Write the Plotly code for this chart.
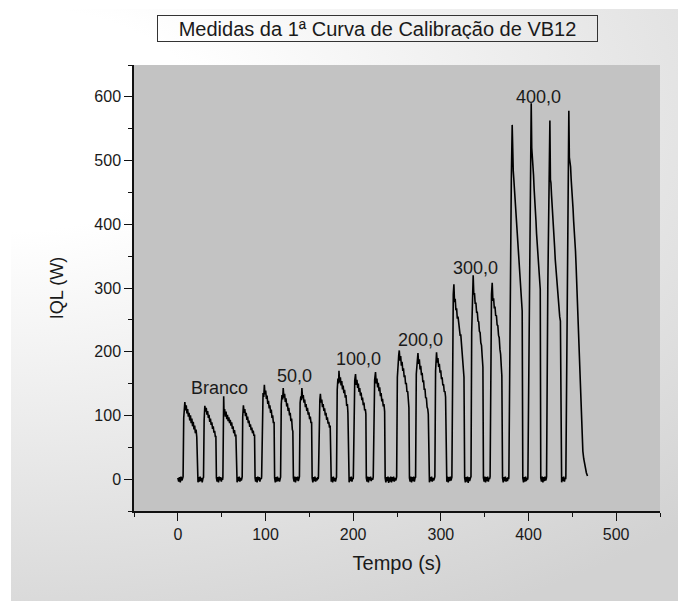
import base64
import plotly.graph_objects as go

# Chemiluminescence signal (IQL) versus time for each VB12 standard.
# Each group holds the pulses recorded for one concentration.
branco_tempo = [0.0, 1.0, 1.8, 2.8, 3.6, 4.6, 5.4,
                6.0, 6.7, 7.4, 8.0, 8.8, 9.6, 10.4, 11.2, 12.0, 12.8, 13.6, 14.4, 15.2, 16.0, 16.8, 17.6, 18.4, 19.2, 20.0, 20.8, 21.6, 22.3,
                23.0, 23.8, 24.6, 25.4, 26.2, 27.0, 27.8, 28.6,
                29.3, 30.0, 30.8, 31.6, 32.4, 33.2, 34.0, 34.8, 35.6, 36.4, 37.2, 38.0, 38.8, 39.6, 40.4, 41.2, 42.0, 42.8, 43.4, 44.0,
                44.8, 45.6, 46.4, 47.2, 48.0, 48.8, 49.6, 50.4, 51.0,
                51.4, 52.0, 52.3, 52.7, 53.4, 54.2, 55.0, 55.8, 56.6, 57.4, 58.2, 59.0, 59.8, 60.6, 61.4, 62.2, 63.0, 63.8, 64.6, 65.4, 66.2, 66.8,
                67.6, 68.4, 69.2, 70.0, 70.8, 71.6, 72.4, 73.0,
                73.4, 74.0, 74.8, 75.6, 76.4, 77.2, 78.0, 78.8, 79.6, 80.4, 81.2, 82.0, 82.8, 83.6, 84.4, 85.2, 86.0, 86.8, 87.5, 88.1,
                88.8, 89.6, 90.4, 91.2, 92.0, 92.8, 93.6, 94.4, 95.2]
branco_iql = [2, -4, 3, -5, 4, -2, 1,
              4, 96, 112, 121, 108, 116, 103, 110, 98, 104, 92, 100, 88, 95, 83, 90, 78, 84, 72, 78, 66, 3,
              -5, 3, -4, 4, -3, 2, -5, 1,
              3, 92, 115, 106, 112, 101, 107, 96, 101, 90, 95, 85, 89, 79, 83, 73, 76, 66, 68, 2,
              -4, 3, -5, 4, -2, 3, -4, 2, -1,
              3, 100, 130, 104, 110, 98, 106, 94, 101, 91, 97, 88, 93, 84, 89, 79, 83, 72, 77, 67, 70, 2,
              -5, 3, -3, 4, -4, 2, -2, 1,
              4, 98, 116, 104, 110, 99, 104, 93, 98, 88, 92, 82, 86, 77, 81, 72, 76, 68, 70, 2,
              -4, 3, -5, 4, -2, 3, -4, 2, 0]

c50_tempo = [95.6, 96.4, 97.2, 98.0, 98.7, 99.4, 100.2, 101.0, 101.8, 102.6, 103.4, 104.2, 105.0, 105.8, 106.6, 107.4, 108.2, 109.0, 109.8, 110.4,
             111.2, 112.0, 112.8, 113.6, 114.4, 115.2, 116.0, 116.8,
             117.2, 118.0, 118.8, 119.6, 120.2, 121.0, 121.8, 122.6, 123.4, 124.2, 125.0, 125.8, 126.6, 127.4, 128.2, 129.0, 129.8, 130.6, 131.2, 131.8,
             132.6, 133.4, 134.2, 135.0, 135.8, 136.6, 137.4, 138.2,
             138.7, 139.5, 140.3, 141.0, 141.5, 142.3, 143.1, 143.9, 144.7, 145.5, 146.3, 147.1, 147.9, 148.7, 149.5, 150.3, 151.1, 151.9, 152.6, 153.2,
             154.0, 154.8, 155.6, 156.4, 157.2, 158.0, 158.8, 159.6, 160.1,
             160.4, 161.2, 162.0, 162.6, 163.4, 164.2, 165.0, 165.8, 166.6, 167.4, 168.2, 169.0, 169.8, 170.6, 171.4, 172.2, 173.0, 173.8, 174.3,
             175.0, 175.8, 176.6, 177.4, 178.2, 179.0, 179.8, 180.6]
c50_iql = [4, 120, 135, 129, 148, 133, 139, 126, 131, 118, 123, 111, 116, 104, 109, 96, 100, 88, 90, 2,
           -5, 3, -4, 4, -3, 2, -4, 1,
           3, 118, 132, 125, 143, 128, 134, 121, 127, 114, 119, 107, 112, 100, 104, 91, 95, 78, 75, 2,
           -4, 4, -5, 3, -2, 4, -3, 1,
           4, 120, 130, 124, 143, 127, 132, 120, 125, 113, 118, 107, 112, 101, 105, 94, 98, 88, 90, 2,
           -5, 3, -3, 4, -4, 2, -2, 3, 0,
           4, 112, 124, 134, 120, 125, 113, 118, 107, 111, 100, 104, 93, 97, 87, 90, 81, 84, 2,
           -4, 3, -5, 4, -3, 2, -4, 1]

c100_tempo = [181.0, 181.8, 182.6, 183.4, 183.8, 184.6, 185.4, 186.2, 187.0, 187.8, 188.6, 189.4, 190.2, 191.0, 191.8, 192.6, 193.4, 194.0, 194.6,
              195.4, 196.2, 197.0, 197.8, 198.6, 199.4, 200.0,
              200.2, 201.0, 201.8, 202.7, 203.5, 204.3, 205.1, 205.9, 206.7, 207.5, 208.3, 209.1, 209.9, 210.7, 211.5, 212.3, 213.1, 213.9, 214.5, 215.0,
              215.8, 216.6, 217.4, 218.2, 219.0, 219.8, 220.6, 221.4, 222.2,
              222.9, 223.7, 224.5, 225.5, 226.3, 227.1, 227.9, 228.7, 229.5, 230.3, 231.1, 231.9, 232.7, 233.5, 234.3, 235.1, 235.9, 236.5,
              237.3, 238.1, 238.9, 239.7, 240.5, 241.3, 242.1, 242.9, 243.7, 244.5, 245.3, 246.1, 246.9, 247.7, 248.5, 249.2]
c100_iql = [3, 140, 158, 150, 170, 152, 160, 147, 154, 141, 147, 135, 140, 128, 132, 115, 118, 104, 2,
            -5, 3, -3, 4, -4, 2, 0,
            4, 140, 155, 165, 148, 156, 143, 150, 137, 143, 131, 136, 124, 128, 116, 120, 108, 110, 102, 2,
            -4, 4, -5, 3, -2, 4, -3, 2, -1,
            3, 140, 156, 168, 150, 158, 144, 151, 138, 144, 130, 135, 122, 126, 114, 118, 106, 2,
            -5, 3, -3, 4, -6, 3, -4, 4, -5, 3, -3, 4, -4, 2, -2, 1]

c200_tempo = [249.6, 250.4, 251.2, 252.0, 252.6, 253.4, 254.2, 255.0, 255.8, 256.6, 257.4, 258.2, 259.0, 259.8, 260.6, 261.4, 262.2, 263.0, 263.6, 264.2,
              265.0, 265.8, 266.6, 267.4, 268.2, 269.0, 269.8, 270.6,
              271.2, 272.0, 272.8, 273.9, 274.7, 275.5, 276.3, 277.1, 277.9, 278.7, 279.5, 280.3, 281.1, 281.9, 282.7, 283.5, 284.3, 285.1, 285.7, 286.2,
              287.0, 287.8, 288.6, 289.4, 290.2, 291.0, 291.8, 292.6,
              293.2, 294.0, 295.1, 295.9, 296.7, 297.5, 298.3, 299.1, 299.9, 300.7, 301.5, 302.3, 303.1, 303.9, 304.7, 305.4, 306.0,
              306.8, 307.6, 308.4, 309.2, 310.0, 310.8, 311.6]
c200_iql = [4, 160, 185, 195, 202, 186, 193, 178, 184, 170, 174, 160, 163, 149, 151, 137, 138, 122, 112, 2,
            -4, 4, -5, 3, -3, 4, -4, 2,
            3, 165, 185, 198, 181, 188, 172, 178, 163, 167, 152, 155, 140, 142, 127, 128, 113, 110, 102, 2,
            -5, 3, -3, 4, -4, 2, -2, 1,
            4, 170, 199, 183, 190, 176, 181, 167, 171, 157, 160, 147, 149, 137, 138, 129, 2,
            -4, 4, -5, 3, -3, 4, -2]

c300_tempo = [312.6, 313.4, 314.2, 314.9, 315.6, 316.4, 317.2, 318.0, 318.8, 319.6, 320.4, 321.2, 322.0, 322.8, 323.6, 324.4, 325.2, 325.8, 326.4, 327.2,
              328.0, 328.8, 329.6, 330.4, 331.2, 332.0, 332.8, 333.6,
              334.4, 335.2, 336.1, 336.9, 337.6, 338.4, 339.2, 340.0, 340.8, 341.6, 342.4, 343.2, 344.0, 344.8, 345.6, 346.4, 347.2, 348.0, 348.6,
              349.4, 350.2, 351.0, 351.8, 352.6, 353.4, 354.2, 355.0, 355.6,
              356.2, 357.0, 357.8, 358.6, 359.4, 360.2, 361.0, 361.8, 362.6, 363.4, 364.2, 365.0, 365.8, 366.6, 367.4, 368.2, 369.0, 369.6, 370.4,
              371.2, 372.0, 372.8, 373.6, 374.4, 375.2, 376.0, 376.8, 377.4]
c300_iql = [3, 230, 290, 306, 278, 283, 265, 268, 252, 255, 240, 241, 226, 226, 210, 206, 188, 178, 160, 2,
            -5, 3, -4, 4, -6, 3, -3, 1,
            4, 230, 300, 320, 290, 292, 275, 277, 262, 262, 248, 247, 232, 230, 214, 210, 192, 176, 2,
            -4, 4, -5, 3, -3, 4, -4, 2, 0,
            4, 230, 290, 308, 280, 284, 268, 271, 256, 257, 242, 241, 226, 222, 204, 196, 176, 162, 2,
            -5, 3, -3, 4, -4, 2, -3, 3, 0]

c400_tempo = [377.6, 379.0, 380.4, 381.4, 382.0, 382.6, 383.3, 384.0, 384.7, 385.4, 386.1, 386.8, 387.5, 388.2, 388.9, 389.6, 390.3, 391.0, 391.7, 392.3, 392.8, 393.5,
              394.3, 395.1, 395.9, 396.7, 397.5, 398.3, 399.0,
              399.3, 400.8, 402.2, 403.1, 403.7, 404.3, 405.0, 405.7, 406.4, 407.1, 407.8, 408.5, 409.2, 409.9, 410.6, 411.3, 412.0, 412.7, 413.4, 414.0,
              414.8, 415.6, 416.4, 417.2, 418.0, 418.8, 419.6, 420.3,
              420.6, 422.0, 423.4, 424.4, 425.0, 425.6, 426.3, 427.0, 427.7, 428.4, 429.1, 429.8, 430.5, 431.2, 431.9, 432.6, 433.3, 434.0, 434.8, 435.6, 436.4, 437.0,
              437.8, 438.6, 439.4, 440.2, 441.0, 441.8, 442.4,
              442.6, 444.0, 445.2, 446.0, 446.6, 447.3, 448.0, 448.7, 449.4, 450.1, 450.8, 451.5, 452.2, 452.9, 453.6, 454.3, 455.0, 455.7, 456.4, 457.1,
              457.8, 458.5, 459.2, 459.9, 460.6, 461.3, 462.0, 463.0, 464.0, 465.0, 466.0, 467.3]
c400_iql = [4, 280, 470, 556, 490, 484, 470, 455, 447, 430, 420, 402, 392, 374, 360, 343, 330, 312, 296, 280, 264, 2,
            -5, 3, -4, 4, -3, 2, -1,
            3, 300, 500, 590, 520, 510, 490, 478, 456, 443, 420, 406, 385, 372, 352, 338, 322, 310, 298, 2,
            -4, 4, -5, 3, -3, 4, -2, 1,
            4, 300, 500, 563, 470, 465, 445, 432, 412, 398, 378, 364, 345, 332, 315, 302, 290, 278, 266, 255, 248, 2,
            -5, 3, -3, 4, -4, 2, 0,
            4, 300, 520, 578, 505, 500, 490, 470, 458, 438, 425, 405, 392, 372, 358, 335, 310, 282, 255, 225,
            195, 165, 135, 108, 82, 58, 44, 32, 24, 16, 10, 5]

# Concentration labels placed above each group of pulses
rotulos = ["Branco", "50,0", "100,0", "200,0", "300,0", "400,0"]
rotulos_tempo = [47, 133, 206, 277, 340, 411]
rotulos_iql = [143, 162, 188, 219, 332, 600]

grupos = [(branco_tempo, branco_iql), (c50_tempo, c50_iql), (c100_tempo, c100_iql),
          (c200_tempo, c200_iql), (c300_tempo, c300_iql), (c400_tempo, c400_iql)]
tempo, iql = [], []
for t, v in grupos:
    assert len(t) == len(v), (len(t), len(v))
    tempo += t
    iql += v

FONT = "Liberation Sans, Arial, Helvetica, sans-serif"
INK = "#111111"

fig = go.Figure()
fig.add_trace(go.Scatter(x=tempo, y=iql, mode="lines",
                         line=dict(color="#000000", width=1.6), hoverinfo="skip",
                         showlegend=False))

for txt, tx, ty in zip(rotulos, rotulos_tempo, rotulos_iql):
    fig.add_annotation(x=tx, y=ty, xref="x", yref="y", text=txt, showarrow=False,
                       font=dict(family=FONT, size=18, color="#1a1a1a"))

# Soft light-grey backdrop behind the whole figure
svg = (
    '<svg xmlns="http://www.w3.org/2000/svg" width="667" height="592" viewBox="0 0 667 592" '
    'preserveAspectRatio="none"><defs>'
    '<radialGradient id="g" gradientUnits="userSpaceOnUse" cx="0" cy="110" r="560" '
    'gradientTransform="scale(1.75,1)">'
    '<stop offset="0" stop-color="#ffffff"/><stop offset="0.2" stop-color="#ffffff"/>'
    '<stop offset="1" stop-color="#d2d2d2"/></radialGradient></defs>'
    '<rect width="667" height="592" fill="url(#g)"/></svg>'
)
fundo = "data:image/svg+xml;base64," + base64.b64encode(svg.encode()).decode()

L, R, T, B = 134, 18, 65, 90
W, H = 678, 601
pw, ph = W - L - R, H - T - B

fig.add_layout_image(dict(source=fundo, xref="paper", yref="paper",
                          x=(11 - L) / pw, y=(H - B - 9) / ph,
                          sizex=(W - 11) / pw, sizey=(H - 9) / ph,
                          xanchor="left", yanchor="top", sizing="stretch", layer="below"))
fig.add_shape(type="rect", xref="paper", yref="paper", x0=0, x1=1, y0=0, y1=1,
              fillcolor="#c3c3c3", line=dict(width=0), layer="below")

# Boxed chart title
fig.add_annotation(xref="paper", yref="paper", x=(377.5 - L) / pw, y=(H - B - 28.5) / ph,
                   xanchor="center", yanchor="middle", showarrow=False,
                   text="Medidas da 1ª Curva de Calibração de VB12",
                   font=dict(family=FONT, size=20, color="#1a1a1a"),
                   bordercolor="#333333", borderwidth=1, borderpad=2, width=435, height=21)

eixo = dict(showline=True, linecolor=INK, linewidth=1.5, mirror=False,
            ticks="outside", ticklen=8, tickwidth=1.3, tickcolor=INK,
            showgrid=False, zeroline=False,
            tickfont=dict(family=FONT, size=16, color="#1a1a1a"))

fig.update_layout(
    width=W, height=601, margin=dict(l=L, r=R, t=T, b=B, pad=0),
    paper_bgcolor="white", plot_bgcolor="rgba(0,0,0,0)",
    xaxis=dict(range=[-50, 550], tick0=0, dtick=100,
               minor=dict(tick0=0, dtick=50, ticks="outside", ticklen=4, tickwidth=1.2, tickcolor=INK),
               title=dict(text="Tempo (s)", font=dict(family=FONT, size=20, color="#1a1a1a"), standoff=14),
               **eixo),
    yaxis=dict(range=[-50, 650], tick0=0, dtick=100,
               minor=dict(tick0=0, dtick=50, ticks="outside", ticklen=4, tickwidth=1.2, tickcolor=INK),
               title=dict(text="IQL (W)", font=dict(family=FONT, size=18, color="#1a1a1a"), standoff=26),
               **eixo),
)

fig.write_html("out.html")
